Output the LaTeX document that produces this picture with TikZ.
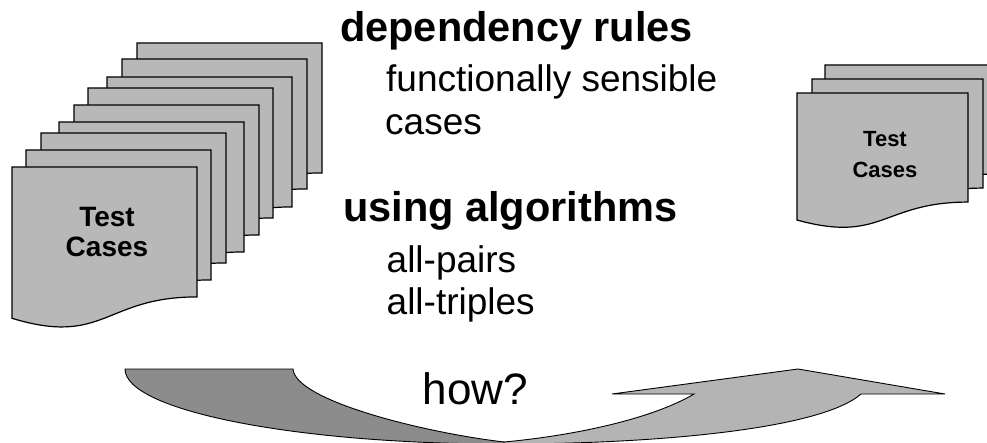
\documentclass[tikz,border=0pt]{standalone}
\usepackage{fontspec}
\setmainfont{Liberation Sans}
\definecolor{sheetgray}{RGB}{184,184,184}
\definecolor{arrowdark}{RGB}{140,140,140}
\definecolor{arrowlight}{RGB}{180,180,180}
\tikzset{
  sheet/.style={draw=black, fill=sheetgray, line width=1.2pt, line join=miter},
  pics/docsheet/.style 2 args={code={
    \draw[sheet] (0,0) -- (#1,0) -- (#1,{0.802*#2})
      .. controls ({0.5*#1},{0.802*#2}) and ({0.5*#1},{1.1075*#2}) .. (0,{0.934*#2}) -- cycle;
  }},
  txt/.style={inner sep=0pt, anchor=base west, text=black},
  ctxt/.style={inner sep=0pt, anchor=base, text=black},
  arrowpart/.style={draw=black, line width=0.9pt, line join=miter}
}
\begin{document}
\begin{tikzpicture}[x=1pt,y=-1pt]
\useasboundingbox (0,0) rectangle (987,443);
\clip (0,0) rectangle (987,443);

% left stack of test case sheets (back to front)
\pic at (137,43)  {docsheet={185}{162}};
\pic at (122,59)  {docsheet={185}{162}};
\pic at (107,77)  {docsheet={185}{162}};
\pic at (88,88)   {docsheet={185}{162}};
\pic at (74,105)  {docsheet={185}{162}};
\pic at (59,122)  {docsheet={185}{162}};
\pic at (41,133)  {docsheet={185}{162}};
\pic at (26,150)  {docsheet={185}{162}};
\pic at (12,167)  {docsheet={185}{162}};
\node[ctxt] (lt1) at (107,227) {\fontsize{28}{30}\selectfont\bfseries Test};
\node[ctxt] (lt2) at (107,257) {\fontsize{28}{30}\selectfont\bfseries Cases};

% right stack of test case sheets
\pic at (825,65) {docsheet={171}{136}};
\pic at (812,79) {docsheet={171}{136}};
\pic at (797,93) {docsheet={171}{136}};
\node[ctxt] (rt1) at (885,147) {\fontsize{22}{24}\selectfont\bfseries Test};
\node[ctxt] (rt2) at (885,178) {\fontsize{22}{24}\selectfont\bfseries Cases};

% middle texts
\node[txt] (h1) at (340,42) {\fontsize{41.5}{48}\selectfont\bfseries dependency rules};
\node[txt] (s1) at (386,92) {\fontsize{37}{42}\selectfont functionally sensible};
\node[txt] (s2) at (385,135) {\fontsize{37}{42}\selectfont cases};
\node[txt] (h2) at (343,222) {\fontsize{41.5}{48}\selectfont\bfseries using algorithms};
\node[txt] (s3) at (386.5,273) {\fontsize{37}{42}\selectfont all-pairs};
\node[txt] (s4) at (386.5,315) {\fontsize{37}{42}\selectfont all-triples};

% curved arrow
\draw[arrowpart, fill=arrowdark] (125,369) -- (293,369)
  .. controls (295,400) and (420,432) .. (504,442)
  -- (504,444)
  .. controls (294.8,444) and (125,410.4) .. (125,369) -- cycle;
\draw[arrowpart, fill=arrowlight] (504,442)
  .. controls (570,436) and (650,420) .. (694,394)
  -- (612,394) -- (798,369) -- (945,394) -- (861,394)
  .. controls (820,430) and (650,444) .. (504,444) -- cycle;
\node[txt] (how) at (422.5,404) {\fontsize{44}{48}\selectfont how?};
\end{tikzpicture}
\end{document}
